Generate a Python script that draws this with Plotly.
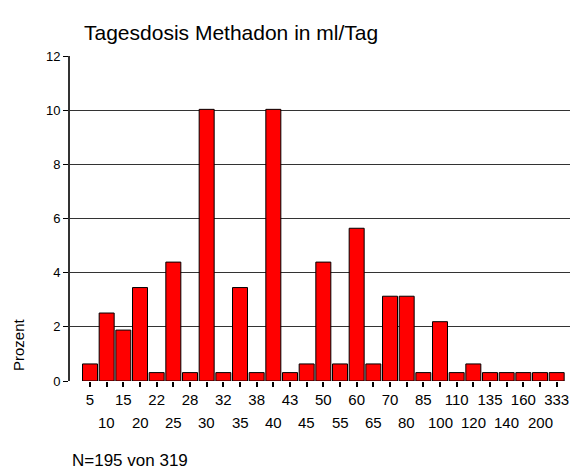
import plotly.graph_objects as go

categories = ["5", "10", "15", "20", "22", "25", "28", "30", "32", "35", "38", "40", "43", "45",
              "50", "55", "60", "65", "70", "80", "85", "100", "110", "120", "135", "140", "160",
              "200", "333"]
percent = [0.63, 2.51, 1.88, 3.45, 0.31, 4.39, 0.31, 10.03, 0.31, 3.45, 0.31, 10.03, 0.31, 0.63,
           4.39, 0.63, 5.64, 0.63, 3.13, 3.13, 0.31, 2.19, 0.31, 0.63, 0.31, 0.31, 0.31, 0.31, 0.31]
y_ticks = [0, 2, 4, 6, 8, 10, 12]

title_text = "Tagesdosis Methadon in ml/Tag"
y_title = "Prozent"
footnote = "N=195 von 319"

FONT = "Liberation Sans, Arial, sans-serif"
TICK_SIZE = 15

fig = go.Figure()
fig.add_trace(go.Bar(
    x=list(range(len(categories))), y=percent,
    marker=dict(color="#ff0000", line=dict(color="#000000", width=1)),
    customdata=categories,
    hovertemplate="%{customdata}: %{y}<extra></extra>",
))

top_labels = [c if i % 2 == 0 else "" for i, c in enumerate(categories)]

annotations = []
for i, c in enumerate(categories):
    if i % 2 == 1:
        annotations.append(dict(x=i, xref="x", y=0, yref="y", yshift=-41, yanchor="middle",
                                text=c, showarrow=False,
                                font=dict(family=FONT, size=TICK_SIZE, color="#000")))

annotations.append(dict(text=y_title, x=0, xref="paper", xanchor="center", xshift=-52,
                        y=0, yref="paper", yanchor="middle", yshift=36, showarrow=False,
                        textangle=-90, font=dict(family=FONT, size=15, color="#000")))
annotations.append(dict(text=footnote, x=0, xref="paper", y=0, yref="paper", xanchor="left",
                        yanchor="middle", yshift=-79, showarrow=False,
                        font=dict(family=FONT, size=17, color="#000")))

fig.update_layout(
    width=570, height=474,
    margin=dict(l=70, r=0, t=56, b=93),
    paper_bgcolor="white", plot_bgcolor="white",
    showlegend=False,
    bargap=0.1,
    title=dict(text=title_text, x=84 / 570, xref="container", xanchor="left",
               y=1 - 33 / 474, yref="container", yanchor="middle",
               font=dict(family=FONT, size=21, color="#000")),
    font=dict(family=FONT, size=12, color="#000"),
    annotations=annotations,
    xaxis=dict(range=[-1.2, 28.8], tickmode="array",
               tickvals=list(range(len(categories))), ticktext=top_labels,
               ticks="outside", ticklen=5, tickwidth=2, tickcolor="#000",
               showline=False, showgrid=False, zeroline=False,
               tickfont=dict(family=FONT, size=TICK_SIZE, color="#000")),
    yaxis=dict(range=[0, 12], tickvals=y_ticks, ticks="outside", ticklen=5, tickwidth=1,
               tickcolor="#000", showline=True, linecolor="#333", linewidth=2,
               showgrid=True, gridcolor="#333", gridwidth=1, zeroline=False,
               tickfont=dict(family=FONT, size=13, color="#000")),
)

fig.write_html("out.html", config={"displayModeBar": False},
               post_script="document.body.style.margin='0';")
